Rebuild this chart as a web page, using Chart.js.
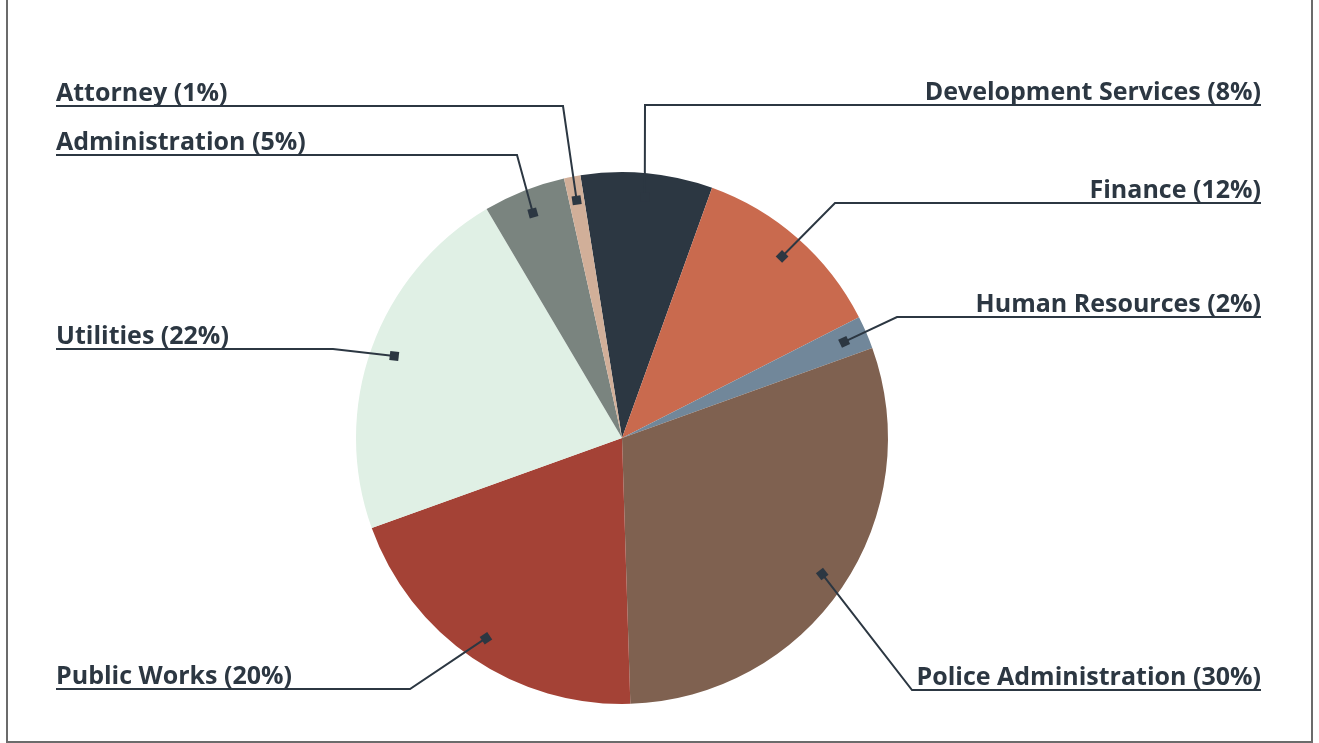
<!DOCTYPE html>
<html>
<head>
<meta charset="utf-8">
<script src="https://cdn.jsdelivr.net/npm/chart.js@4"></script>
<style>
    html, body { margin: 0; padding: 0; background: #fff; }
    #wrap { position: relative; width: 1319px; height: 743px; }
    #frame { position: absolute; left: 6px; top: -4px; width: 1303px; height: 745px;
             border: 2px solid #6b6b6b; border-top: none; box-sizing: content-box; }
    canvas { position: absolute; left: 0; top: 0; }
</style>
</head>
<body>
<div id="wrap">
    <div id="frame"></div>
    <canvas id="budgetChart" width="1319" height="743"></canvas>
</div>
<script>
// department share of budget, clockwise from the top
const departments = ['Development Services', 'Finance', 'Human Resources', 'Police Administration',
                     'Public Works', 'Utilities', 'Administration', 'Attorney'];
const shares = [8, 12, 2, 30, 20, 22, 5, 1];
const sliceColors = ['#2c3742', '#c96a4e', '#71879a', '#7f6150', '#a44236', '#e0f0e5', '#7a847f', '#d1af99'];

// where each callout label sits: side of the chart, underline y, elbow x
const callouts = [
    { side: 'right', y: 105, elbowX: 645 },
    { side: 'right', y: 203, elbowX: 835 },
    { side: 'right', y: 317, elbowX: 897 },
    { side: 'right', y: 690, elbowX: 912 },
    { side: 'left', y: 689, elbowX: 410 },
    { side: 'left', y: 349, elbowX: 333 },
    { side: 'left', y: 155, elbowX: 517 },
    { side: 'left', y: 106, elbowX: 563 }
];

const calloutPlugin = {
    id: 'callouts',
    afterDatasetsDraw(chart) {
        const ctx = chart.ctx;
        const arcs = chart.getDatasetMeta(0).data;
        const ink = '#2c3742';
        ctx.save();
        ctx.font = 'bold 25px "Open Sans"';
        ctx.fillStyle = ink;
        ctx.strokeStyle = ink;
        ctx.lineWidth = 2;
        arcs.forEach((arc, i) => {
            const c = callouts[i];
            const mid = (arc.startAngle + arc.endAngle) / 2;
            const r = arc.outerRadius * 0.91;
            const ax = arc.x + Math.cos(mid) * r;
            const ay = arc.y + Math.sin(mid) * r;
            const text = departments[i] + ' (' + shares[i] + '%)';
            const tx = c.side === 'left' ? 56 : 1261;
            ctx.textAlign = c.side;
            ctx.textBaseline = 'alphabetic';
            ctx.fillText(text, tx, c.y - 5);

            ctx.beginPath();
            ctx.moveTo(tx, c.y);
            ctx.lineTo(c.elbowX, c.y);
            ctx.lineTo(ax, ay);
            ctx.stroke();

            // small square marker pointing along the leader
            const ang = Math.atan2(ay - c.y, ax - c.elbowX);
            ctx.save();
            ctx.translate(ax, ay);
            ctx.rotate(ang);
            ctx.fillRect(-4.5, -4.5, 9, 9);
            ctx.restore();
        });
        ctx.restore();
    }
};

const ctx = document.getElementById('budgetChart').getContext('2d');
const chart = new Chart(ctx, {
    type: 'pie',
    data: {
        labels: departments,
        datasets: [{
            data: shares,
            backgroundColor: sliceColors,
            borderWidth: 0
        }]
    },
    options: {
        responsive: false,
        animation: false,
        rotation: -9,
        layout: { padding: { top: 172, bottom: 39, left: 356, right: 431 } },
        plugins: {
            legend: { display: false },
            tooltip: { enabled: false }
        }
    },
    plugins: [calloutPlugin]
});
</script>
</body>
</html>
